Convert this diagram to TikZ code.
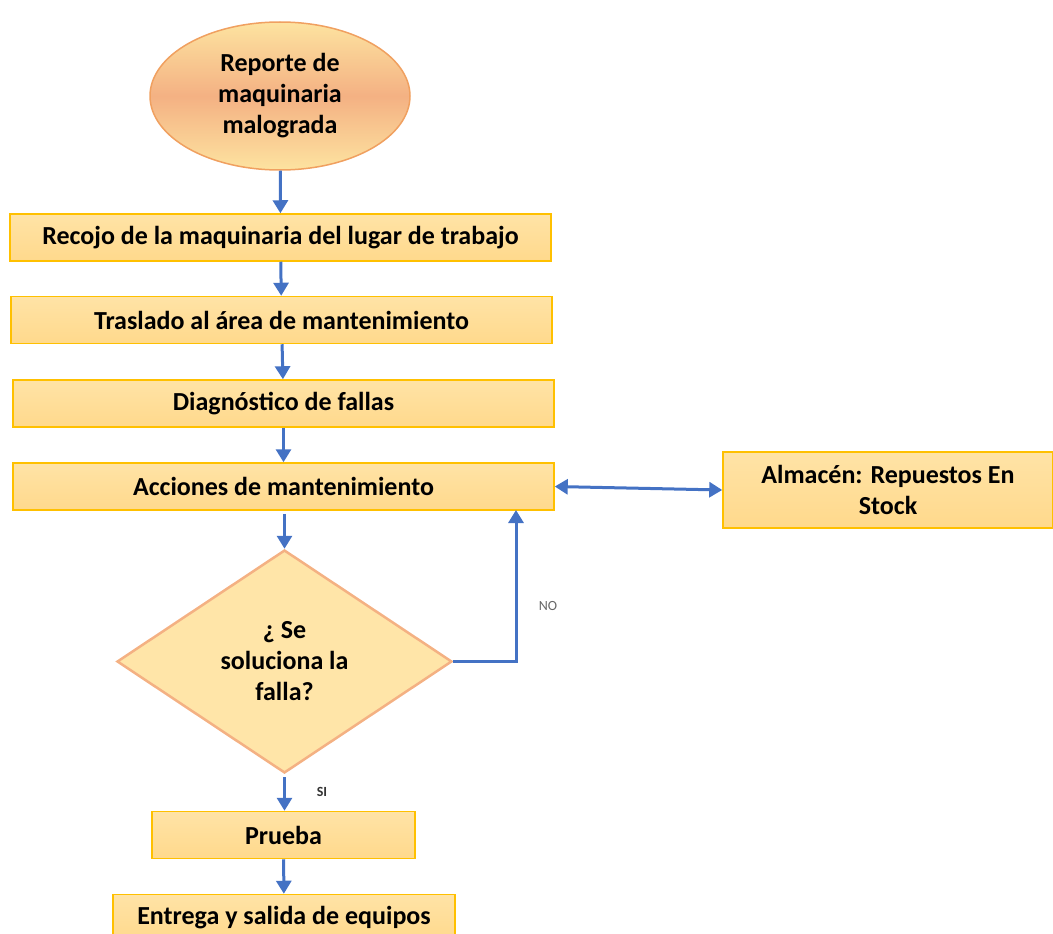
\documentclass[tikz,border=0pt]{standalone}
\usepackage{fontspec}
\setmainfont{Carlito}
\usetikzlibrary{shapes.geometric,arrows.meta}
\definecolor{boxfill}{HTML}{FFD98C}
\definecolor{boxtop}{HTML}{FFE3A6}
\definecolor{boxline}{HTML}{FFC000}
\definecolor{ovalline}{HTML}{F0A060}
\definecolor{ovalmid}{HTML}{F4B183}
\definecolor{ovaltop}{HTML}{FDE3A0}
\definecolor{diafill}{HTML}{FFE5A8}
\definecolor{dialine}{HTML}{F4B183}
\definecolor{flow}{HTML}{4472C4}
\begin{document}
\begin{tikzpicture}[x=1pt,y=-1pt,
    font=\fontsize{26}{31}\selectfont\bfseries,
    paso/.style={draw=boxline,line width=1.5pt,top color=boxtop,bottom color=boxfill,
        minimum height=47pt,inner sep=2pt,align=center},
    inicio/.style={ellipse,draw=ovalline,line width=1.5pt,top color=ovaltop,bottom color=ovaltop,
        middle color=ovalmid,minimum width=260pt,minimum height=148pt,align=center,inner sep=0pt},
    pregunta/.style={diamond,draw=dialine,line width=2.5pt,fill=diafill,aspect=1.5,
        minimum width=335pt,minimum height=223pt,align=center,inner sep=0pt},
    flecha/.style={draw=flow,line width=3pt,-{Triangle[length=13pt,width=15pt]}},
    etiqueta/.style={font=\fontsize{14}{16}\selectfont}]
    \useasboundingbox (0,0) rectangle (1053,934);
    % nodos
    \node[inicio] (rep) at (280,96) {Reporte de\\maquinaria\\malograda};
    \node[paso,minimum width=541pt] (rec) at (280.5,237.5) {Recojo de la maquinaria del lugar de trabajo};
    \node[paso,minimum width=541pt] (tra) at (281.5,320) {Traslado al área de mantenimiento};
    \node[paso,minimum width=541pt] (dia) at (283.5,403.5) {Diagnóstico de fallas};
    \node[paso,minimum width=541pt] (acc) at (283.5,486.5) {Acciones de mantenimiento};
    \node[paso,minimum width=330pt,minimum height=76pt] (alm) at (888,490) {Almacén: Repuestos En\\Stock};
    \node[pregunta] (sol) at (284.5,661.5) {¿ Se\\soluciona la\\falla?};
    \node[paso,minimum width=263pt] (pru) at (283.5,835) {Prueba};
    \node[paso,minimum width=342pt] (ent) at (284,918) {Entrega y salida de equipos};
    \coordinate (noup) at (516,510);
    % conectores
    \draw[flecha] (rep) -- (rec);
    \draw[flecha] (rec) -- (tra);
    \draw[flecha] (tra) -- (dia);
    \draw[flecha] (dia) -- (acc);
    \draw[flecha,shorten <=3pt] (acc.south -| sol.north) -- (sol.north);
    \draw[flecha,shorten <=3pt] (sol.south) -- (pru.north -| sol.south);
    \draw[flecha] (pru) -- (ent);
    \draw[flecha] (sol.east) -| (noup);
    \draw[flecha,{Triangle[length=13pt,width=15pt]}-{Triangle[length=13pt,width=15pt]}] (acc.east) -- (alm.west);
    \node[etiqueta,text=black!60] (no) at (548,606) {NO};
    \node[etiqueta,font=\fontsize{14}{16}\selectfont\bfseries,text=black!80] (si) at (322,792) {SI};
\end{tikzpicture}
\end{document}
